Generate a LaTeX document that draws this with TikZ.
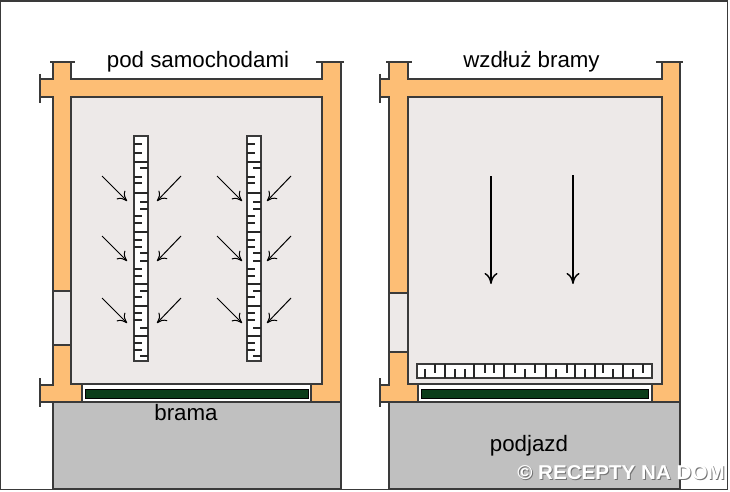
\documentclass[tikz,border=0pt]{standalone}
\usepackage{fontspec}
\setmainfont{Liberation Sans}
\usetikzlibrary{arrows.meta}
\definecolor{wall}{HTML}{FDBE75}
\definecolor{room}{HTML}{EDE9E8}
\definecolor{drive}{HTML}{C0C0C0}
\definecolor{gate}{HTML}{0B3D1A}
\definecolor{edgeline}{HTML}{3A3A3A}
\begin{document}
\begin{tikzpicture}[x=1pt,y=-1pt]
 \tikzstyle{outline}=[draw=edgeline,line width=1.3pt]
 \tikzstyle{boardtick}=[draw=black!85,line width=1.2pt]
 \tikzstyle{flow}=[-{To[length=9pt,width=12pt]},line width=1pt]
 \tikzstyle{bigflow}=[-{To[length=11pt,width=13pt]},line width=1.4pt]
 \tikzstyle{caption}=[font=\fontsize{22.3}{24}\selectfont,anchor=base,inner sep=0pt]
 \tikzstyle{stamp}=[font=\fontsize{20}{22}\selectfont\bfseries,anchor=base,inner sep=0pt,xscale=1.03]
\useasboundingbox (0,0) rectangle (730,492);
\fill[white] (0,0) rectangle (730,492);
% the two garages
\foreach \xs/\xo/\xi/\xg/\xh/\xr/\xe/\wa/\wb/\ba/\bb in
   {40/53/71/82/311/322/341/291/345/85/308,
    380/389/408/418/652/662/680/293/352/421/648} {
  \draw[outline,fill=drive] (\xo,402) rectangle (\xe,489);
  \draw[outline,fill=wall] (\xo,62) -- (\xi,62) -- (\xi,79) -- (\xr,79) -- (\xr,62)
     -- (\xe,62) -- (\xe,402) -- (\xh,402) -- (\xh,384) -- (\xg,384) -- (\xg,402)
     -- (\xs,402) -- (\xs,385) -- (\xo,385) -- (\xo,97) -- (\xs,97) -- (\xs,79)
     -- (\xo,79) -- cycle;
  \draw[outline,fill=room] (\xi,97) rectangle (\xr,384);
  \draw[outline,fill=white] (\xg,384) rectangle (\xh,402);
  \fill[gate,draw=black,line width=0.6pt] (\ba,389) rectangle (\bb,398);
  \draw[outline,fill=room] (\xo,\wa) rectangle (\xi,\wb);
  % end caps of the walls
  \draw[outline] (\xs,74) -- (\xs,103);
  \draw[outline] (\xs,378) -- (\xs,407);
  \draw[outline] (\xo-3,62) -- (\xi+4,62);
  \draw[outline] (\xr-6,62) -- (\xe+3,62);
}
% boards under the cars
\foreach \bx/\dl/\dr in {134/0/0,247/2/-3} {
  \draw[outline,fill=white] (\bx,136) rectangle (\bx+14,361);
  \foreach \ty/\ta/\tb in {144/0/8,153/0/8,162/0/14,168/6/14,177/0/8,183/0/8,193/0/14,
     202/6/14,209/6/14,216/0/8,223/0/8,232/0/14,240/0/8,247/0/8,253/6/14,261/6/14,
     269/0/8,276/0/8,284/0/14,291/6/14,297/0/8,306/0/14,313/0/8,320/0/8,328/6/14,
     336/0/14,343/0/8,350/0/8,356/6/14}
    \draw[boardtick] (\bx+\ta,\ty) -- (\bx+\tb,\ty);
  \foreach \ay in {176,236,298} {
    \draw[flow] (\bx-32+\dl,\ay) -- (\bx-7+\dl,\ay+25);
    \draw[flow] (\bx+47+\dr,\ay) -- (\bx+23+\dr,\ay+25);
  }
}
% board along the gate
\draw[outline,fill=white] (417,364) rectangle (652,378);
\foreach \tx/\ta/\tb in {425/369/378,435/364/373,445/364/378,455/369/378,465/369/378,
   474/364/378,485/364/373,494/364/373,504/364/378,515/364/373,525/369/378,535/364/373,
   546/364/378,556/369/378,567/364/373,575/364/378,585/369/378,595/364/378,603/364/373,
   613/369/378,623/364/378,633/369/378,643/364/373}
  \draw[boardtick] (\tx,\ta) -- (\tx,\tb);
\draw[bigflow] (491,176) -- (491,284);
\draw[bigflow] (573,175) -- (573,284);
% labels
\node[caption] (under) at (198,68) {pod samochodami};
\node[caption] (along) at (531.5,68) {wzdłuż bramy};
\node[caption] (gatename) at (186,420) {brama};
\node[caption] (drivename) at (529,451) {podjazd};
\node[stamp,text=black!55] (stampback) at (622,480) {© RECEPTY NA DOM};
\node[stamp,text=white] (stampfront) at (621,479) {© RECEPTY NA DOM};
\draw[draw=edgeline,line width=1.2pt] (0.6,1) rectangle (727.5,489.5);
\end{tikzpicture}
\end{document}
